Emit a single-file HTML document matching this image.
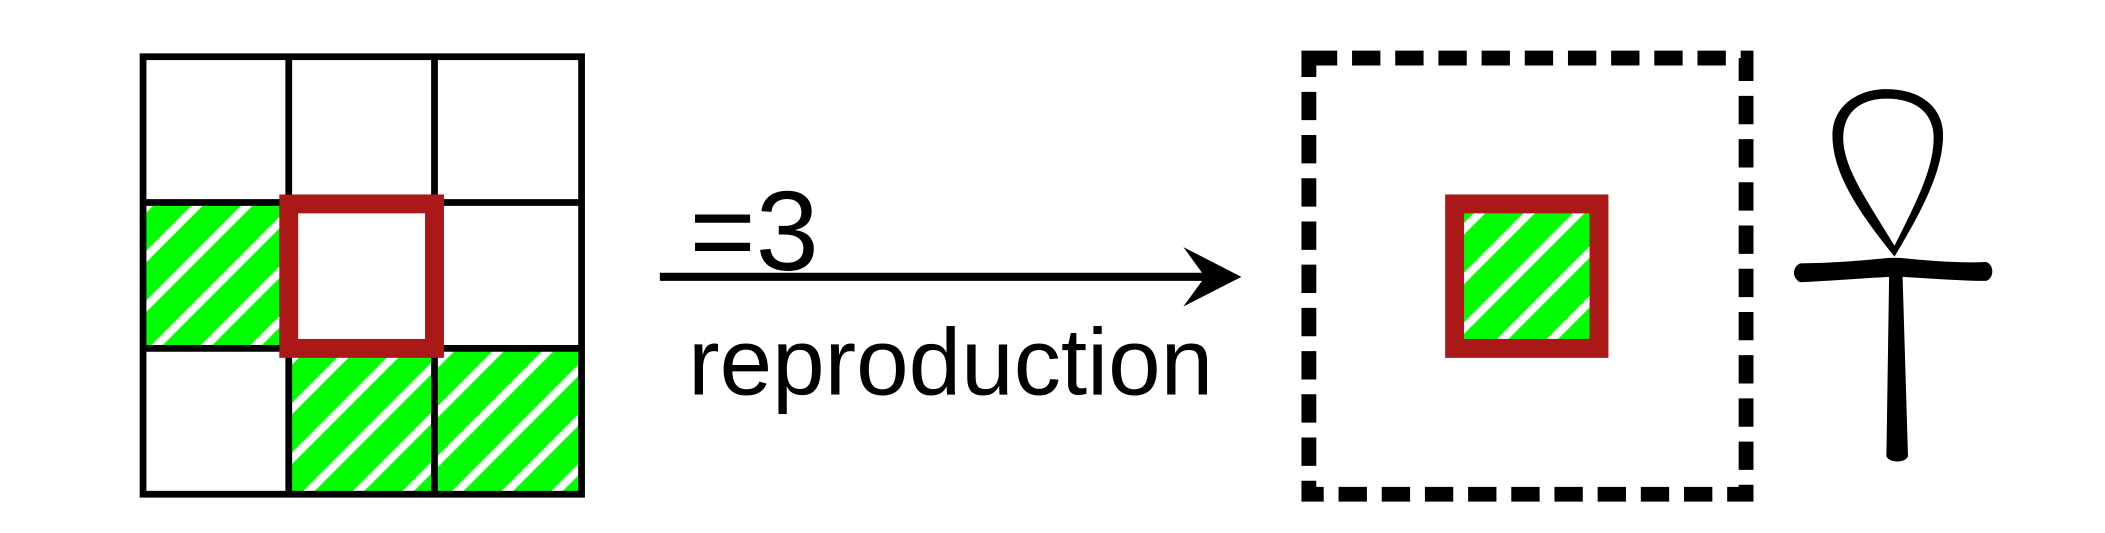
<!DOCTYPE html>
<html><head><style>html,body{margin:0;padding:0;background:#fff;overflow:hidden}</style></head>
<body>
<svg width="2105" height="528" viewBox="0 0 1560 391" preserveAspectRatio="none" xmlns="http://www.w3.org/2000/svg">
<defs>
<pattern id="h" patternUnits="userSpaceOnUse" width="26" height="26" patternTransform="rotate(45)">
<rect width="26" height="26" fill="#00ff00"/><rect x="0" y="0" width="6" height="26" fill="#fff"/>
</pattern>
</defs>
<rect x="107" y="150" width="107" height="108" fill="url(#h)"/>
<rect x="214" y="258" width="216" height="108" fill="url(#h)"/>
<g stroke="#000" stroke-width="5" fill="none">
<rect x="106" y="42" width="325" height="324"/>
<line x1="214" y1="42" x2="214" y2="366"/>
<line x1="322" y1="42" x2="322" y2="366"/>
<line x1="106" y1="150" x2="431" y2="150"/>
<line x1="106" y1="258" x2="431" y2="258"/>
</g>
<rect x="214" y="151" width="108" height="107" fill="none" stroke="#aa1818" stroke-width="14"/>
<text x="511" y="200" font-family="Liberation Sans, sans-serif" font-size="84">=3</text>
<text x="510" y="292" font-family="Liberation Sans, sans-serif" font-size="70">reproduction</text>
<line x1="489" y1="205" x2="893" y2="205" stroke="#000" stroke-width="6"/>
<path d="M877 183 L920 205 L877 227 L893 205 Z" fill="#000"/>
<rect x="970" y="43" width="324" height="323" fill="none" stroke="#000" stroke-width="11" stroke-dasharray="21 11"/>
<rect x="1078" y="151" width="107" height="107" fill="url(#h)" stroke="#aa1818" stroke-width="14"/>
<g fill="#000">
<path d="M1404 190 C1380 160 1358 130 1358 100 C1358 80 1375 66 1398 66 C1424 66 1440 80 1440 100 C1440 128 1422 160 1404 190 Z M1404 182 C1420 150 1433 125 1433 102 C1433 84 1420 73 1398 73 C1378 73 1366 84 1366 102 C1366 125 1385 150 1404 182 Z" fill-rule="evenodd"/>
<path d="M1334 195 C1355 195 1380 193 1400 191 L1408 191 C1428 193 1452 195 1472 194 C1478 196 1478 206 1472 208 C1452 208 1430 206 1410 205 L1414 338 C1412 343 1400 343 1398 338 L1400 205 C1380 206 1355 208 1334 209 C1328 206 1328 198 1334 195 Z"/>
</g>
</svg>
</body></html>
